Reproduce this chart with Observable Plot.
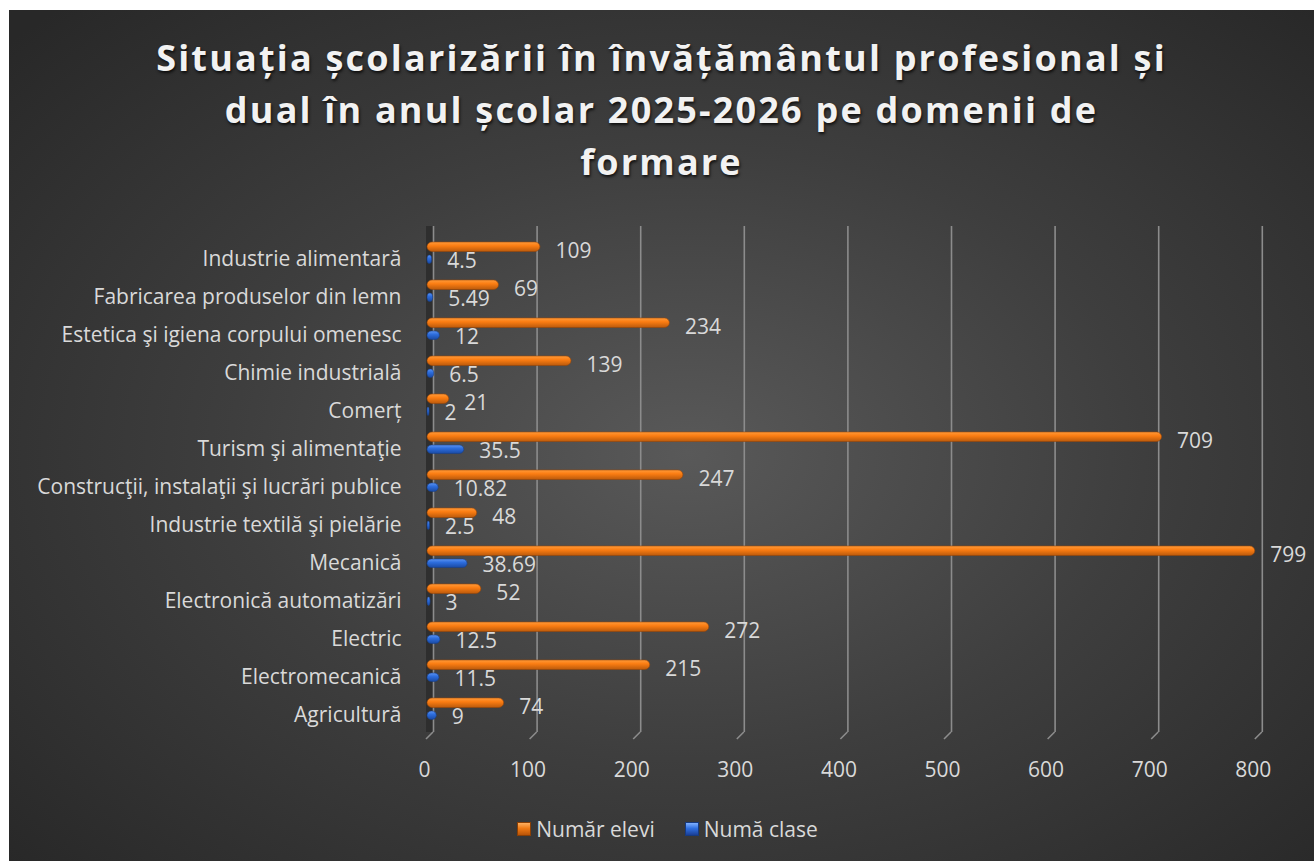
<!DOCTYPE html>
<html><head><meta charset="utf-8">
<script src="https://cdn.jsdelivr.net/npm/d3@7"></script>
<script src="https://cdn.jsdelivr.net/npm/@observablehq/plot@0.6"></script>
<style>
html,body{margin:0;padding:0;background:#fff;}
#chart{position:absolute;left:9px;top:10px;width:1305px;height:851px;overflow:hidden;
  background: radial-gradient(ellipse 70% 72% at 52% 52%, #595959 0%, #3e3e3e 50%, #282828 100%);
  font-family:"Open Sans",sans-serif;}
#title{height:200px;box-sizing:border-box;padding-top:22px;text-align:center;color:#f2f2f2;
  font-weight:700;font-size:36px;line-height:52px;letter-spacing:2.2px;
  text-shadow:1px 2px 3px rgba(0,0,0,0.75);}
#plot{height:590px;}
#legend{margin-top:16px;height:26px;display:flex;justify-content:center;align-items:center;gap:0;
  color:#d9d9d9;font-size:21px;padding-left:12px;}
.item{display:flex;align-items:center;margin:0 15px;}
.sw{width:14px;height:14px;margin-right:5px;box-sizing:border-box;}
.sw.o{background:linear-gradient(180deg,#ffb060 0%,#f07a14 45%,#b85408 100%);border:1px solid #8a3f05;}
.sw.b{background:linear-gradient(180deg,#7fb0ff 0%,#2f6fe0 45%,#1a3f96 100%);border:1px solid #163a80;}
</style></head>
<body>
<div id="chart">
  <div id="title">Situația școlarizării în învățământul profesional și<br>dual în anul școlar 2025-2026 pe domenii de<br>formare</div>
  <div id="plot"></div>
  <div id="legend">
    <div class="item"><div class="sw o"></div><span>Număr elevi</span></div>
    <div class="item"><div class="sw b"></div><span>Numă clase</span></div>
  </div>
</div>
<script>
const categories = ["Industrie alimentară", "Fabricarea produselor din lemn", "Estetica şi igiena corpului omenesc", "Chimie industrială", "Comerț", "Turism şi alimentaţie", "Construcţii, instalaţii şi lucrări publice", "Industrie textilă şi pielărie", "Mecanică", "Electronică automatizări", "Electric", "Electromecanică", "Agricultură"];
const numarElevi = [109, 69, 234, 139, 21, 709, 247, 48, 799, 52, 272, 215, 74];
const numarClase = [4.5, 5.49, 12, 6.5, 2, 35.5, 10.82, 2.5, 38.69, 3, 12.5, 11.5, 9];
const xTicks = [0, 100, 200, 300, 400, 500, 600, 700, 800];

const data = categories.map((c, i) => ({cat: c, elevi: numarElevi[i], clase: numarClase[i]}));

const W = 1305, H = 590;
const gridMarks = (index, scales, values, dims) => {
  const g = d3.create("svg:g");
  const yb = dims.height - dims.marginBottom;
  for (const t of xTicks) {
    const px = scales.x(t) + 6;
    g.append("line").attr("x1", px).attr("y1", yb).attr("x2", px - 7).attr("y2", yb + 7)
      .attr("stroke", "#8c8c8c").attr("stroke-width", 1.6);
  }
  return g.node();
};

const chart = Plot.plot({
  width: W, height: H,
  marginLeft: 418, marginRight: 58.2, marginTop: 16, marginBottom: 68,
  style: {background: "transparent", color: "#d9d9d9", fontFamily: "'Open Sans', sans-serif", fontSize: "21px", overflow: "visible"},
  x: {domain: [0, 800], label: null},
  y: {domain: categories, range: [21, 521.6], padding: 0, label: null},
  marks: [
    Plot.ruleX([0], {dx: 2, strokeWidth: 7, stroke: "#2c2c2c", strokeOpacity: 0.9}),
    Plot.ruleX(xTicks, {stroke: "#8c8c8c", strokeWidth: 1.6, dx: 6}),
    gridMarks,
    Plot.barX(data, {y: "cat", x: "elevi", insetTop: 8, insetBottom: 20.5, rx: 5, fill: "url(#gOrange)", stroke: "#9a4606", strokeWidth: 0.6}),
    Plot.barX(data, {y: "cat", x: "clase", insetTop: 21, insetBottom: 8.5, rx: 4.5, fill: "url(#gBlue)", stroke: "#173f8a", strokeWidth: 0.6}),
    Plot.text(data, {y: "cat", x: "elevi", text: d => String(d.elevi), dx: 15, dy: -2, textAnchor: "start", fontSize: 21, fill: "#d9d9d9"}),
    Plot.text(data, {y: "cat", x: "clase", text: d => String(d.clase), dx: 15, dy: 8, textAnchor: "start", fontSize: 21, fill: "#d9d9d9"}),
    Plot.axisY({tickSize: 0, tickPadding: 26, dy: 5.5, fontSize: 21, label: null}),
    Plot.axisX({ticks: xTicks, tickSize: 0, tickPadding: 30, dx: -3, fontSize: 21, tickFormat: d => String(d), label: null})
  ]
});

const svg = d3.select(chart);
const defs = svg.insert("defs", ":first-child");
const go = defs.append("linearGradient").attr("id", "gOrange").attr("x1", 0).attr("y1", 0).attr("x2", 0).attr("y2", 1);
go.append("stop").attr("offset", "0%").attr("stop-color", "#ff9a3a");
go.append("stop").attr("offset", "40%").attr("stop-color", "#fb7d12");
go.append("stop").attr("offset", "100%").attr("stop-color", "#bb5a0c");
const gb = defs.append("linearGradient").attr("id", "gBlue").attr("x1", 0).attr("y1", 0).attr("x2", 0).attr("y2", 1);
gb.append("stop").attr("offset", "0%").attr("stop-color", "#5c94f2");
gb.append("stop").attr("offset", "40%").attr("stop-color", "#2d6ddd");
gb.append("stop").attr("offset", "100%").attr("stop-color", "#1a4aa3");

document.getElementById("plot").appendChild(chart);
</script>
</body></html>
